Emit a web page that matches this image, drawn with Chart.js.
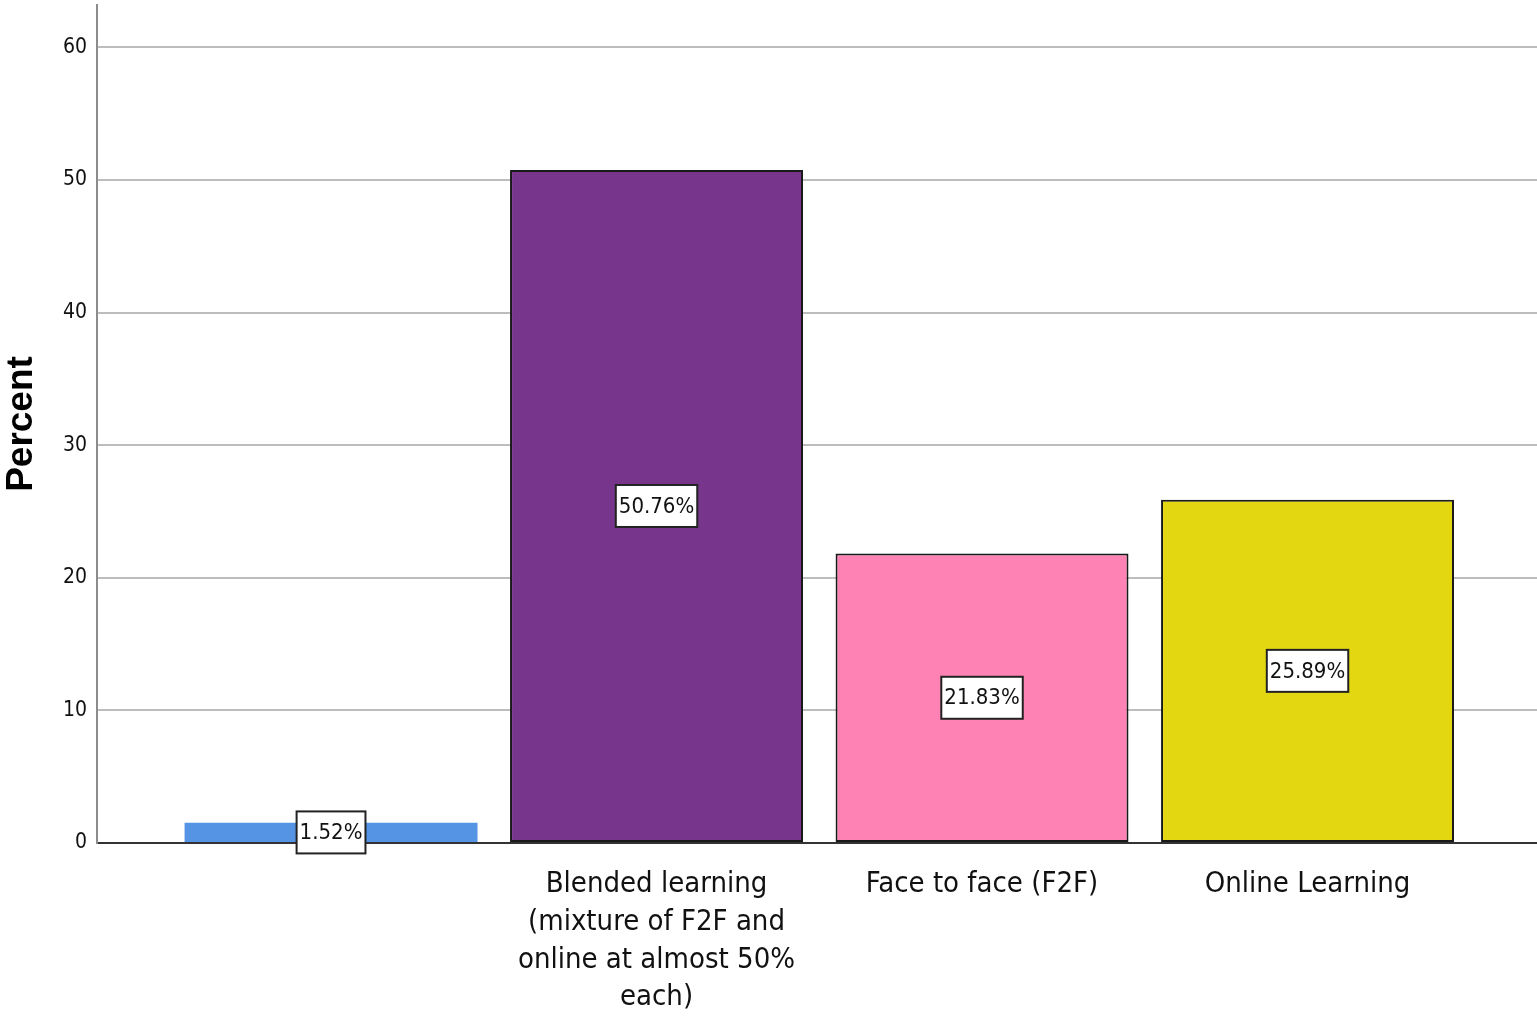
<!DOCTYPE html>
<html>
<head>
<meta charset="utf-8">
<script src="https://cdn.jsdelivr.net/npm/chart.js@4"></script>
<style>
  html, body { margin: 0; padding: 0; background: #fff; }
  #wrap { width: 1537px; height: 1022px; }
</style>
</head>
<body>
<div id="wrap"><canvas id="modeChart"></canvas></div>
<script>
const categories = [
    '',
    ['Blended learning', '(mixture of F2F and', 'online at almost 50%', 'each)'],
    'Face to face (F2F)',
    'Online Learning'
];
const percents = [1.52, 50.76, 21.83, 25.89];
const yTicks = [0, 10, 20, 30, 40, 50, 60];
const barColors = ['#5593E5', '#77368B', '#FF82B4', '#E2D710'];

const narrow = "'Liberation Sans Narrow', 'Arial Narrow', 'DejaVu Sans Condensed', sans-serif";

// white boxed value labels centred in each bar
const boxLabels = {
    id: 'boxLabels',
    afterDatasetsDraw(chart) {
        const ctx = chart.ctx;
        const meta = chart.getDatasetMeta(0);
        ctx.save();
        ctx.font = '22px ' + narrow;
        ctx.textAlign = 'center';
        ctx.textBaseline = 'middle';
        meta.data.forEach((bar, i) => {
            const text = percents[i].toFixed(2) + '%';
            const cy = (bar.y + bar.base) / 2;
            const w = ctx.measureText(text).width + 6;
            const h = 42;
            ctx.fillStyle = '#ffffff';
            ctx.fillRect(bar.x - w / 2, cy - h / 2, w, h);
            ctx.strokeStyle = '#222222';
            ctx.lineWidth = 2;
            ctx.strokeRect(bar.x - w / 2, cy - h / 2, w, h);
            ctx.fillStyle = '#111111';
            ctx.fillText(text, bar.x, cy + 1);
        });
        ctx.restore();
    }
};

const ctx = document.getElementById('modeChart').getContext('2d');
const modeChart = new Chart(ctx, {
    type: 'bar',
    data: {
        datasets: [{
            label: 'Percent',
            data: percents.map((v, i) => ({ x: i + 1, y: v })),
            backgroundColor: barColors,
            borderColor: '#1a1a1a',
            borderWidth: [0, 2, 2, 2],
            borderSkipped: false,
            categoryPercentage: 1,
            barPercentage: 0.9
        }]
    },
    options: {
        responsive: true,
        maintainAspectRatio: false,
        animation: false,
        layout: { padding: { top: 5, right: 0, left: 0, bottom: 0 } },
        plugins: {
            legend: { display: false },
            tooltip: { enabled: false }
        },
        scales: {
            x: {
                type: 'linear',
                offset: false,
                min: 0.281,
                max: 4.705,
                afterBuildTicks: (scale) => {
                    scale.ticks = categories.map((c, i) => ({ value: i + 1 }));
                },
                afterFit: (scale) => {
                    scale.height = 179;
                    scale.paddingLeft = 0;
                    scale.paddingRight = 0;
                },
                ticks: {
                    callback: (value) => categories[Math.round(value) - 1] || '',
                    color: '#111',
                    font: { family: narrow, size: 29, lineHeight: 1.31 },
                    padding: 22,
                    maxRotation: 0,
                    autoSkip: false
                },
                grid: { display: false, drawTicks: false },
                border: { display: true, color: '#333333', width: 2 }
            },
            y: {
                min: 0,
                max: 63.2,
                afterBuildTicks: (scale) => {
                    scale.ticks = yTicks.map(v => ({ value: v }));
                },
                afterFit: (scale) => {
                    scale.width = 97;
                    scale.paddingTop = 0;
                    scale.paddingBottom = 0;
                },
                ticks: {
                    color: '#111',
                    font: { family: narrow, size: 21 },
                    padding: 10
                },
                grid: {
                    drawTicks: false,
                    color: (c) => c.tick && c.tick.value === 0 ? '#333333' : '#bdbdbd',
                    lineWidth: 2
                },
                border: { display: true, color: '#8c8c8c', width: 2 },
                title: {
                    display: true,
                    text: 'Percent',
                    color: '#000',
                    font: { family: "'Liberation Sans', Arial, sans-serif", size: 37, weight: 'bold' },
                    padding: 0
                }
            }
        }
    },
    plugins: [boxLabels]
});
</script>
</body>
</html>
